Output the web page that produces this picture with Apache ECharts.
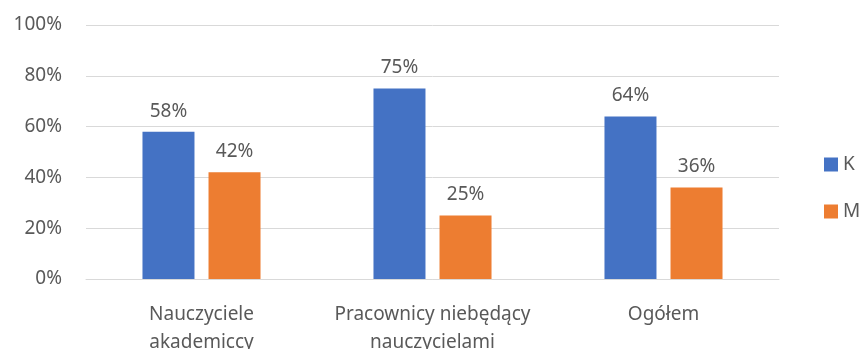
<!DOCTYPE html>
<html>
<head>
<meta charset="utf-8">
<script src="https://cdn.jsdelivr.net/npm/echarts@6/dist/echarts.min.js"></script>
<style>
  html, body { margin: 0; padding: 0; background: #fff; }
  #chart { width: 859px; height: 349px; }
</style>
</head>
<body>
<div id="chart"></div>
<script>
// kategorie i wartości (%)
var categories = ['Nauczyciele\nakademiccy', 'Pracownicy niebędący\nnauczycielami', 'Ogółem'];
var seriesK = [58, 75, 64];
var seriesM = [42, 25, 36];
var yTicks = [0, 20, 40, 60, 80, 100];

var txt = '#595959';
var font = 'Noto Sans';
var fs = 19;

var chart = echarts.init(document.getElementById('chart'));
var option = {
    animation: false,
    textStyle: { fontFamily: font },
    grid: { left: 86, right: 80, top: 25, bottom: 70, containLabel: false, outerBoundsMode: 'none' },
    legend: {
        orient: 'vertical',
        left: 819,
        top: 150,
        itemWidth: 14,
        itemHeight: 14,
        itemGap: 28,
        icon: 'rect',
        textStyle: { color: txt, fontSize: fs, fontFamily: font }
    },
    xAxis: {
        type: 'category',
        data: categories,
        axisLine: { lineStyle: { color: '#d9d9d9', width: 1 } },
        axisTick: { show: false },
        axisLabel: { color: txt, fontSize: fs, lineHeight: 28, margin: 22, interval: 0, hideOverlap: false, fontFamily: font }
    },
    yAxis: {
        type: 'value',
        min: yTicks[0],
        max: yTicks[yTicks.length - 1],
        interval: 20,
        axisLine: { show: false },
        axisTick: { show: false },
        splitLine: { lineStyle: { color: '#d9d9d9', width: 1 } },
        axisLabel: { color: txt, fontSize: fs, margin: 24, formatter: '{value}%', fontFamily: font }
    },
    series: [
        {
            name: 'K',
            type: 'bar',
            data: seriesK,
            barWidth: 52,
            barGap: '27%',
            itemStyle: { color: '#4472C4' },
            label: { show: true, position: 'top', distance: 11, formatter: '{c}%', color: txt, fontSize: fs, fontFamily: font }
        },
        {
            name: 'M',
            type: 'bar',
            data: seriesM,
            barWidth: 52,
            itemStyle: { color: '#ED7D31' },
            label: { show: true, position: 'top', distance: 11, formatter: '{c}%', color: txt, fontSize: fs, fontFamily: font }
        }
    ]
};
chart.setOption(option);
</script>
</body>
</html>
